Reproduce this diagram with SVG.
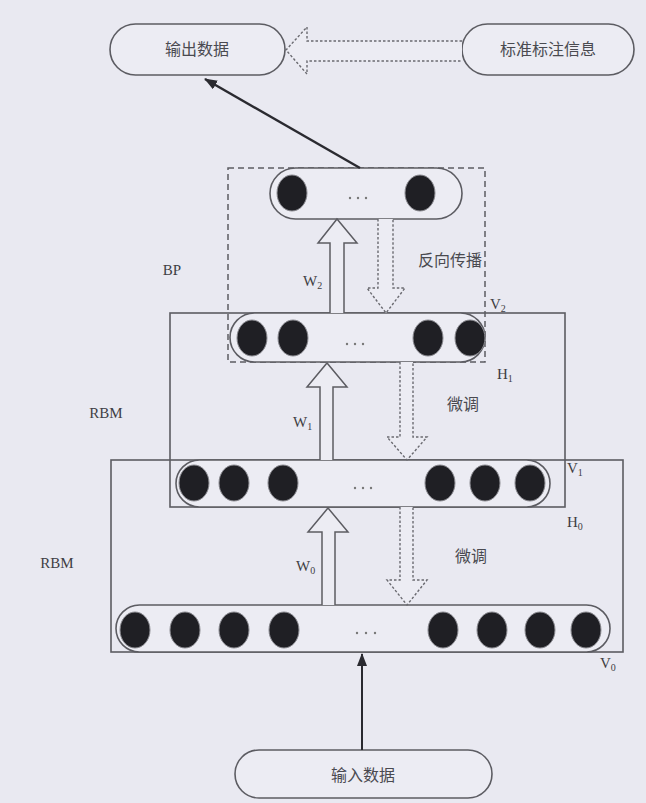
<svg xmlns="http://www.w3.org/2000/svg" width="646" height="803" viewBox="0 0 646 803">
<defs>
<style>
.bg{fill:#e9e9f1}
.ln{fill:none;stroke:#5c5c62;stroke-width:1.6}
.pill{fill:#ececf3;stroke:#5c5c62;stroke-width:1.6}
.dash{fill:none;stroke:#5c5c62;stroke-width:1.5;stroke-dasharray:6 4}
.hollow{fill:#ececf3;stroke:#5c5c62;stroke-width:1.5}
.dhollow{fill:#ececf3;stroke:#6a6a70;stroke-width:1.4;stroke-dasharray:2.5 2}
.node{fill:#1f1f24;stroke:#8a8a90;stroke-width:1}
.dot{fill:#777}
.lat{font-family:"Liberation Serif","DejaVu Serif",serif;font-size:15px;fill:#3e3e44}
.sub{font-size:10px}
.cjk{font-family:"Noto Sans CJK SC","Noto Sans CJK TC",sans-serif;font-size:16px;fill:#4a4a50}
</style>
<marker id="ah" markerWidth="13" markerHeight="10" refX="12" refY="5" orient="auto" markerUnits="userSpaceOnUse" viewBox="0 0 13 10">
<path d="M0,0 L13,5 L0,10 z" fill="#2a2a30"/>
</marker>
</defs>
<rect class="bg" x="0" y="0" width="646" height="803"/>

<g id="rbm-lower">
<rect class="ln" x="111" y="460" width="512" height="192"/>
</g>
<g id="rbm-upper">
<rect class="ln" x="170" y="313" width="395" height="194"/>
</g>
<g id="bp-box">
<rect class="dash" x="228" y="168" width="257" height="194"/>
</g>

<g id="out">
<rect class="pill" x="110" y="24" width="175" height="51" rx="25.5"/>
<text class="cjk" x="197" y="55" text-anchor="middle">输出数据</text>
</g>
<g id="label">
<rect class="pill" x="462" y="24" width="172" height="51" rx="25.5"/>
<text class="cjk" x="548" y="55" text-anchor="middle">标准标注信息</text>
</g>
<g id="in">
<rect class="pill" x="235" y="750" width="257" height="48" rx="24"/>
<text class="cjk" x="363" y="781" text-anchor="middle">输入数据</text>
</g>

<g id="layer-top">
<rect class="pill" x="270" y="168" width="192" height="51" rx="25.5"/>
<ellipse class="node" cx="292" cy="193" rx="15" ry="18"/>
<ellipse class="node" cx="420" cy="193" rx="15" ry="18"/>
<circle class="dot" cx="350" cy="198" r="1.2"/><circle class="dot" cx="358" cy="198" r="1.2"/><circle class="dot" cx="366" cy="198" r="1.2"/>
</g>
<g id="layer-h1">
<rect class="pill" x="230" y="313" width="255" height="49" rx="24.5"/>
<ellipse class="node" cx="252" cy="338" rx="15" ry="18"/>
<ellipse class="node" cx="293" cy="338" rx="15" ry="18"/>
<ellipse class="node" cx="428" cy="338" rx="15" ry="18"/>
<ellipse class="node" cx="470" cy="338" rx="15" ry="18"/>
<circle class="dot" cx="347" cy="344" r="1.2"/><circle class="dot" cx="355" cy="344" r="1.2"/><circle class="dot" cx="363" cy="344" r="1.2"/>
</g>
<g id="layer-h0">
<rect class="pill" x="176" y="460" width="374" height="47" rx="23.5"/>
<ellipse class="node" cx="194" cy="483" rx="15" ry="18"/>
<ellipse class="node" cx="234" cy="483" rx="15" ry="18"/>
<ellipse class="node" cx="283" cy="483" rx="15" ry="18"/>
<ellipse class="node" cx="440" cy="483" rx="15" ry="18"/>
<ellipse class="node" cx="485" cy="483" rx="15" ry="18"/>
<ellipse class="node" cx="530" cy="483" rx="15" ry="18"/>
<circle class="dot" cx="355" cy="488" r="1.2"/><circle class="dot" cx="363" cy="488" r="1.2"/><circle class="dot" cx="371" cy="488" r="1.2"/>
</g>
<g id="layer-v0">
<rect class="pill" x="116" y="605" width="494" height="47" rx="23.5"/>
<ellipse class="node" cx="135" cy="630" rx="15" ry="18"/>
<ellipse class="node" cx="185" cy="630" rx="15" ry="18"/>
<ellipse class="node" cx="234" cy="630" rx="15" ry="18"/>
<ellipse class="node" cx="284" cy="630" rx="15" ry="18"/>
<ellipse class="node" cx="443" cy="630" rx="15" ry="18"/>
<ellipse class="node" cx="492" cy="630" rx="15" ry="18"/>
<ellipse class="node" cx="540" cy="630" rx="15" ry="18"/>
<ellipse class="node" cx="586" cy="630" rx="15" ry="18"/>
<circle class="dot" cx="357" cy="633" r="1.2"/><circle class="dot" cx="366" cy="633" r="1.2"/><circle class="dot" cx="375" cy="633" r="1.2"/>
</g>

<g id="connectors">
<path class="dhollow" d="M462,41 L307,41 L307,27 L286,50 L307,74 L307,61 L462,61"/>
<line x1="360" y1="168" x2="205" y2="79" stroke="#2a2a30" stroke-width="2.4" marker-end="url(#ah)"/>
<line x1="362" y1="750" x2="362" y2="654" stroke="#2a2a30" stroke-width="2" marker-end="url(#ah)"/>
<path class="hollow" d="M330,313 L330,243 L318,243 L337,219 L357,243 L344,243 L344,313"/>
<path class="hollow" d="M320,460 L320,387 L307,387 L327,363 L347,387 L333,387 L333,460"/>
<path class="hollow" d="M322,605 L322,532 L308,532 L328,508 L348,532 L335,532 L335,605"/>
<path class="dhollow" d="M378,219 L378,288 L367,288 L386,313 L405,288 L393,288 L393,219"/>
<path class="dhollow" d="M400,362 L400,437 L387,437 L407,460 L427,437 L413,437 L413,362"/>
<path class="dhollow" d="M400,507 L400,580 L387,580 L407,605 L427,580 L413,580 L413,507"/>
</g>

<g id="labels">
<text class="lat" x="172" y="275" text-anchor="middle">BP</text>
<text class="lat" x="106" y="418" text-anchor="middle">RBM</text>
<text class="lat" x="57" y="568" text-anchor="middle">RBM</text>
<text class="lat" x="303" y="286">W<tspan class="sub" dy="3">2</tspan></text>
<text class="lat" x="293" y="427">W<tspan class="sub" dy="3">1</tspan></text>
<text class="lat" x="296" y="571">W<tspan class="sub" dy="3">0</tspan></text>
<text class="lat" x="490" y="309">V<tspan class="sub" dy="3">2</tspan></text>
<text class="lat" x="497" y="379">H<tspan class="sub" dy="3">1</tspan></text>
<text class="lat" x="567" y="473">V<tspan class="sub" dy="3">1</tspan></text>
<text class="lat" x="567" y="527">H<tspan class="sub" dy="3">0</tspan></text>
<text class="lat" x="600" y="668">V<tspan class="sub" dy="3">0</tspan></text>
<text class="cjk" x="418" y="266">反向传播</text>
<text class="cjk" x="447" y="410">微调</text>
<text class="cjk" x="455" y="562">微调</text>
</g>
</svg>
